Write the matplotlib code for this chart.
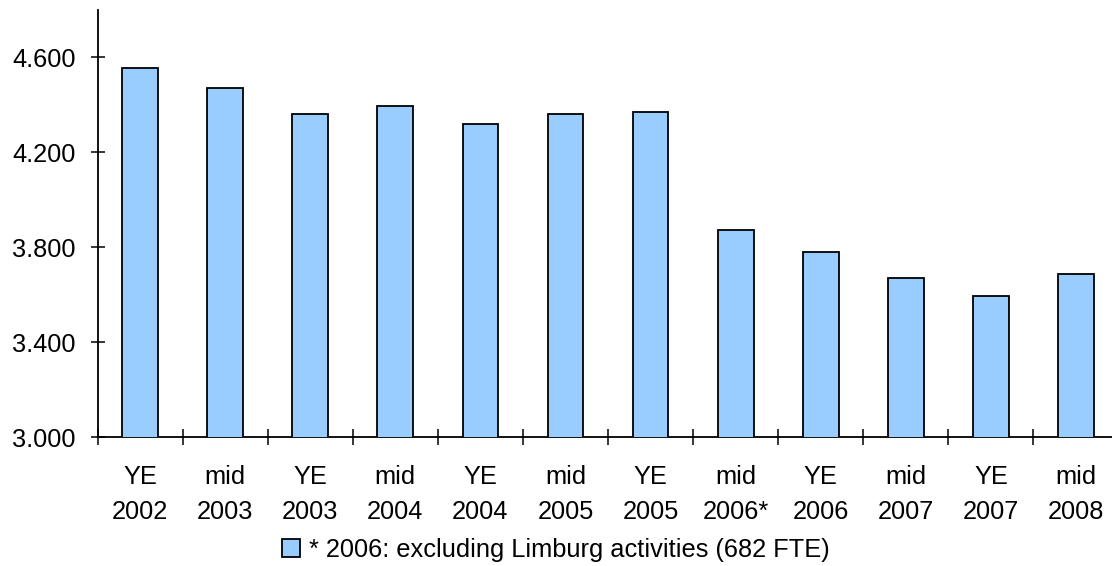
import numpy as np
import matplotlib.pyplot as plt
from matplotlib.patches import Patch

plt.rcParams['font.family'] = ['Liberation Sans', 'DejaVu Sans']

# FTE per period
periods = ['YE\n2002', 'mid\n2003', 'YE\n2003', 'mid\n2004', 'YE\n2004', 'mid\n2005',
           'YE\n2005', 'mid\n2006*', 'YE\n2006', 'mid\n2007', 'YE\n2007', 'mid\n2008']
fte = [4555, 4470, 4360, 4393, 4318, 4360, 4368, 3872, 3779, 3669, 3594, 3686]
yticks = [3000, 3400, 3800, 4200, 4600]
ytick_labels = ['3.000', '3.400', '3.800', '4.200', '4.600']
note = '* 2006: excluding Limburg activities (682 FTE)'

fs = 18.3

fig = plt.figure(figsize=(11.12, 5.66), dpi=100)
ax = fig.add_axes([0.0877, 0.2279, 0.9182, 0.7553])

x = np.arange(len(fte))
ax.bar(x, fte, width=0.42, color='#99CCFF', edgecolor='black', linewidth=1.3, zorder=3)

ax.set_xlim(-0.5, len(fte) - 0.5)
ax.set_ylim(3000, 4800)

ax.set_yticks(yticks)
ax.set_yticklabels(ytick_labels, fontsize=fs)
ax.tick_params(axis='y', direction='inout', length=10, width=1.1, pad=10.5)

# tick marks between categories, labels under each bar
ax.set_xticks(np.arange(-0.5, len(fte) - 0.5 + 0.01, 1.0))
ax.set_xticklabels([])
ax.set_xticks(x, minor=True)
ax.set_xticklabels(periods, minor=True, fontsize=fs, linespacing=1.53)
ax.tick_params(axis='x', which='major', direction='inout', length=11, width=1.1)
ax.tick_params(axis='x', which='minor', length=0, pad=20.5)

for side in ['top', 'right']:
    ax.spines[side].set_visible(False)
for side in ['left', 'bottom']:
    ax.spines[side].set_linewidth(1.3)
ax.spines['bottom'].set_clip_on(False)

handle = Patch(facecolor='#99CCFF', edgecolor='black', linewidth=1.3)
fig.legend([handle], [note], loc='center', bbox_to_anchor=(0.5, 1 - 550 / 566),
           frameon=False, fontsize=fs, handlelength=0.7, handleheight=0.7,
           handletextpad=0.35, borderaxespad=0)

fig.savefig('out.png', dpi=100)
